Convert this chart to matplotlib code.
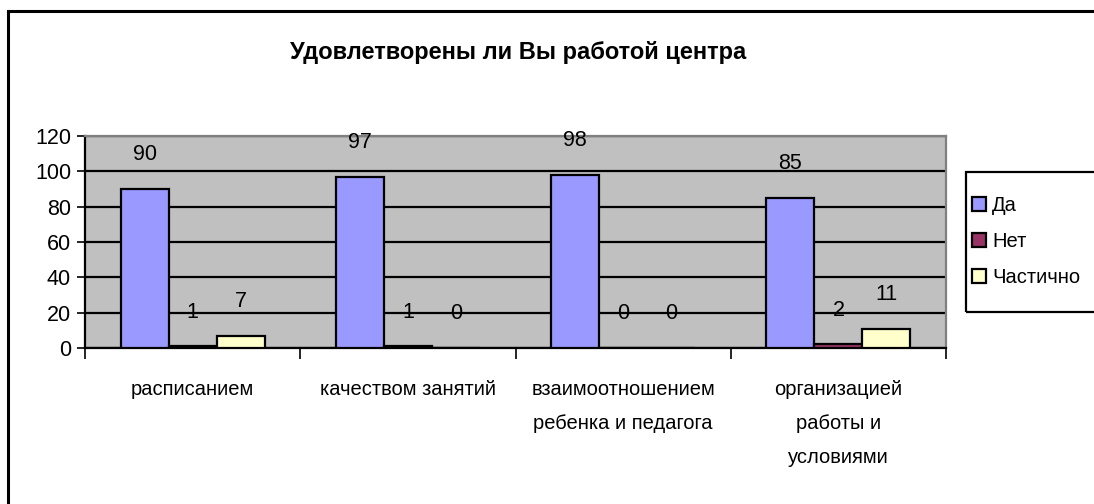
import matplotlib
matplotlib.use("Agg")
import matplotlib.pyplot as plt
from matplotlib import font_manager
from matplotlib.patches import Rectangle
import numpy as np

names = {f.name for f in font_manager.fontManager.ttflist}
FONT = "Liberation Sans Narrow" if "Liberation Sans Narrow" in names else "Liberation Sans"
plt.rcParams['font.family'] = [FONT, 'DejaVu Sans']

title = "Удовлетворены ли Вы работой центра"
categories = ["расписанием", "качеством занятий", "взаимоотношением\nребенка и педагога",
              "организацией\nработы и\nусловиями"]
series_names = ["Да", "Нет", "Частично"]
yes_vals = [90, 97, 98, 85]
no_vals = [1, 1, 0, 2]
partly_vals = [7, 0, 0, 11]
colors = ["#9999FF", "#993366", "#FFFFCC"]
yticks = [0, 20, 40, 60, 80, 100, 120]

W, H = 1094, 504
fig = plt.figure(figsize=(W / 100, H / 100), dpi=100)
fig.patch.set_facecolor("white")

# outer frame
fig.patches.append(Rectangle((8 / W, -0.1), 1.2, (504 - 11) / H + 0.1, transform=fig.transFigure,
                             fill=False, edgecolor="black", linewidth=2.2))

ax = fig.add_axes([85 / W, 1 - 348 / H, (946 - 85) / W, (348 - 136) / H])
ax.set_facecolor("#C0C0C0")

x = np.arange(len(categories))
w = 0.223
series = [yes_vals, no_vals, partly_vals]
for i, (vals, c, nm) in enumerate(zip(series, colors, series_names)):
    bars = ax.bar(x + (i - 1) * w, vals, w, color=c, edgecolor="black", linewidth=1.6, label=nm, zorder=3)
    for b, v in zip(bars, vals):
        ax.annotate(str(v), (b.get_x() + b.get_width() / 2, v), xytext=(0, 24.5),
                    textcoords="offset points", ha="center", va="center", fontsize=15.5, zorder=4)

ax.set_xlim(-0.5, len(categories) - 0.5)
ax.set_ylim(0, 120)
ax.set_yticks(yticks)
ax.yaxis.grid(True, color="black", linewidth=1.6, zorder=1)
ax.set_axisbelow(True)
ax.tick_params(axis="y", direction="out", length=6, width=1.2, labelsize=15.5, pad=4)
ax.set_xticks(x)
ax.set_xticklabels(categories, fontsize=14.5, linespacing=2.0, va="top")
ax.tick_params(axis="x", which="major", length=0, pad=23)
ax.set_xticks(np.arange(-0.5, len(categories)), minor=True)
ax.tick_params(axis="x", which="minor", direction="out", length=8, width=1.2)
for s in ["left", "bottom"]:
    ax.spines[s].set_color("black")
    ax.spines[s].set_linewidth(1.6)
for s in ["top", "right"]:
    ax.spines[s].set_color("#808080")
    ax.spines[s].set_linewidth(1.6)

fig.text(518 / W, 1 - 53 / H, title, ha="center", va="center", fontsize=17, fontweight="bold")

# legend frame
fig.patches.append(Rectangle((966 / W, 1 - 312 / H), 0.2, 140 / H, transform=fig.transFigure,
                             fill=False, edgecolor="black", linewidth=1.6))
leg = fig.legend(loc="center left", bbox_to_anchor=(972 / W, 1 - 241.5 / H), borderaxespad=0,
                 fontsize=14.5, frameon=False,
                 handlelength=0.7, handleheight=0.7, handletextpad=0.3, labelspacing=0.85,
                 borderpad=0)

fig.savefig("out.png", dpi=100)
